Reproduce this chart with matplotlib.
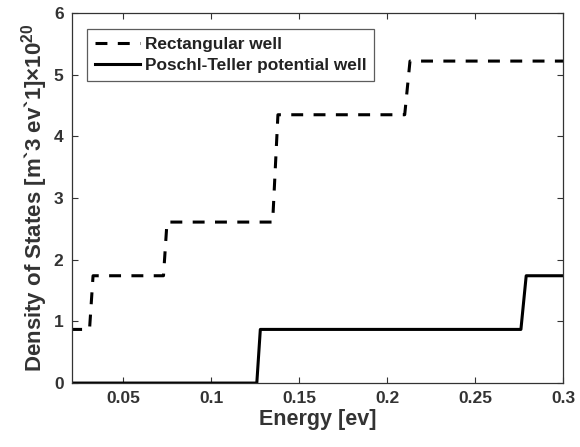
import numpy as np
import matplotlib.pyplot as plt

plt.rcParams["font.family"] = ["Liberation Sans", "DejaVu Sans"]
plt.rcParams["font.weight"] = "bold"
plt.rcParams["mathtext.fontset"] = "custom"
plt.rcParams["mathtext.rm"] = "Liberation Sans:bold"
plt.rcParams["mathtext.bf"] = "Liberation Sans:bold"
plt.rcParams["mathtext.default"] = "bf"

# Rectangular well (step density of states)
rect_energy = [0.020, 0.031, 0.033, 0.073, 0.075, 0.135, 0.138, 0.210, 0.213, 0.300]
rect_dos = [0.87, 0.87, 1.74, 1.74, 2.61, 2.61, 4.35, 4.35, 5.22, 5.22]

# Poschl-Teller potential well
pt_energy = [0.020, 0.126, 0.128, 0.276, 0.279, 0.300]
pt_dos = [0.0, 0.0, 0.87, 0.87, 1.74, 1.74]

x_ticks = [0.05, 0.1, 0.15, 0.2, 0.25, 0.3]
x_ticklabels = ["0.05", "0.1", "0.15", "0.2", "0.25", "0.3"]
y_ticks = [0, 1, 2, 3, 4, 5, 6]

fig = plt.figure(figsize=(5.8, 4.47), dpi=100)
ax = fig.add_axes([0.124, 0.143, 0.847, 0.828])

ax.plot(rect_energy, rect_dos, color="black", lw=2.2, linestyle=(0, (3.9, 3.4)),
        label="Rectangular well")
ax.plot(pt_energy, pt_dos, color="black", lw=2.2, label="Poschl-Teller potential well")

ax.set_xlim(0.021, 0.3)
ax.set_ylim(0, 6)
ax.set_xticks(x_ticks)
ax.set_xticklabels(x_ticklabels)
ax.set_yticks(y_ticks)
ax.tick_params(direction="in", top=True, right=True, length=4, width=0.8,
               labelsize=12.5, colors="#333333", labelcolor="#333333", pad=6)
for lab in ax.get_xticklabels() + ax.get_yticklabels():
    lab.set_fontweight("bold")
for sp in ax.spines.values():
    sp.set_color("#333333")
    sp.set_linewidth(0.9)

ax.set_xlabel("Energy [ev]", fontsize=15.5, fontweight="bold", color="#333333", labelpad=2)
ax.set_ylabel("Density of States [m`3 ev`1]$\\times$10$^{20}$", fontsize=16,
              fontweight="bold", color="#333333", labelpad=3)

leg = ax.legend(loc="upper left", bbox_to_anchor=(0.031, 0.957), borderaxespad=0,
                fontsize=12.4, frameon=True, fancybox=False, edgecolor="#333333",
                handlelength=2.6, handletextpad=0.3, borderpad=0.45,
                labelspacing=0.35)
leg.get_frame().set_linewidth(0.9)
for t in leg.get_texts():
    t.set_fontweight("bold")
    t.set_color("#222222")

fig.savefig("out.png", dpi=100)
